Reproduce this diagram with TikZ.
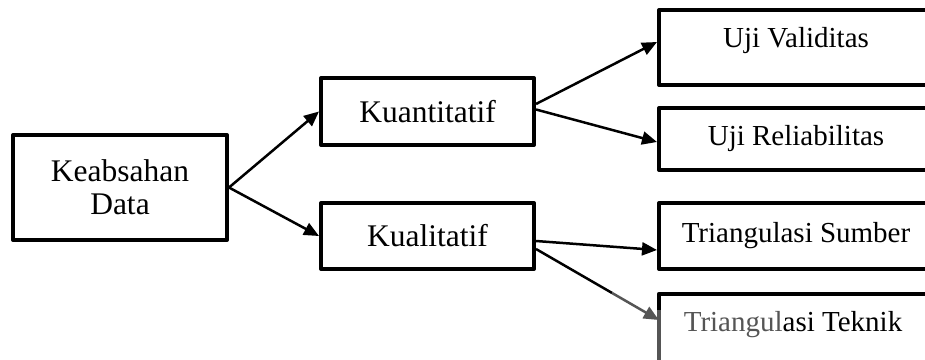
\documentclass[tikz,border=0pt]{standalone}
\usepackage{fontspec}
\setmainfont{Liberation Serif}
\usetikzlibrary{arrows.meta}
\definecolor{fadegray}{HTML}{555555}
\tikzset{
  box/.style={draw, line width=4pt, line join=round, rectangle, inner sep=0pt},
  bigtxt/.style={font=\fontsize{31.5}{33}\selectfont},
  smalltxt/.style={font=\fontsize{29}{31}\selectfont},
  conn/.style={line width=2.5pt, -{Triangle[length=15pt,width=13pt]}},
}
\begin{document}
\begin{tikzpicture}[x=1pt,y=-1pt]
\useasboundingbox (0,0) rectangle (925,359);
\node[box, bigtxt, align=center, minimum width=214pt, minimum height=105pt] (kd) at (120,187.5) {Keabsahan\\Data};
\node[box, bigtxt, minimum width=213pt, minimum height=67pt] (kn) at (427.5,111.5) {Kuantitatif};
\node[box, bigtxt, minimum width=213pt, minimum height=66pt] (kl) at (427.5,236) {Kualitatif};
\node[box, minimum width=274pt, minimum height=75pt] (uv) at (796,47.5) {};
\node[smalltxt] (uvt) at (796,41) {Uji Validitas};
\node[box, smalltxt, minimum width=274pt, minimum height=62pt] (ur) at (796,139) {Uji Reliabilitas};
\node[box, smalltxt, minimum width=274pt, minimum height=66pt] (ts) at (796,236) {Triangulasi Sumber};
\node[minimum width=274pt, minimum height=70pt, inner sep=0pt] (tt) at (796,329) {};
\node[smalltxt] (ttt) at (793,325) {\textcolor{fadegray}{Triangul}asi Teknik};
\draw[line width=4pt, line join=round] (tt.south west) -- (tt.north west) -- (tt.north east);
\draw[line width=4pt, fadegray] ([yshift=-16pt]tt.north west) -- (tt.south west);
\draw[conn] (kd.east) -- (kn.west);
\draw[conn] (kd.east) -- (kl.west);
\draw[conn] ([yshift=7.5pt]kn.east) -- ([yshift=5.5pt]uv.west);
\draw[conn] ([yshift=2pt]kn.east) -- ([yshift=-3pt]ur.west);
\draw[conn] ([yshift=-5pt]kl.east) -- ([yshift=-14pt]ts.west);
\path ([yshift=-13pt]kl.east) coordinate (tka) -- ([yshift=9pt]tt.west) coordinate (tkb) coordinate[pos=0.62] (tkm);
\draw[line width=2.5pt] (tka) -- (tkm);
\draw[conn, fadegray] (tkm) -- (tkb);
\end{tikzpicture}
\end{document}
